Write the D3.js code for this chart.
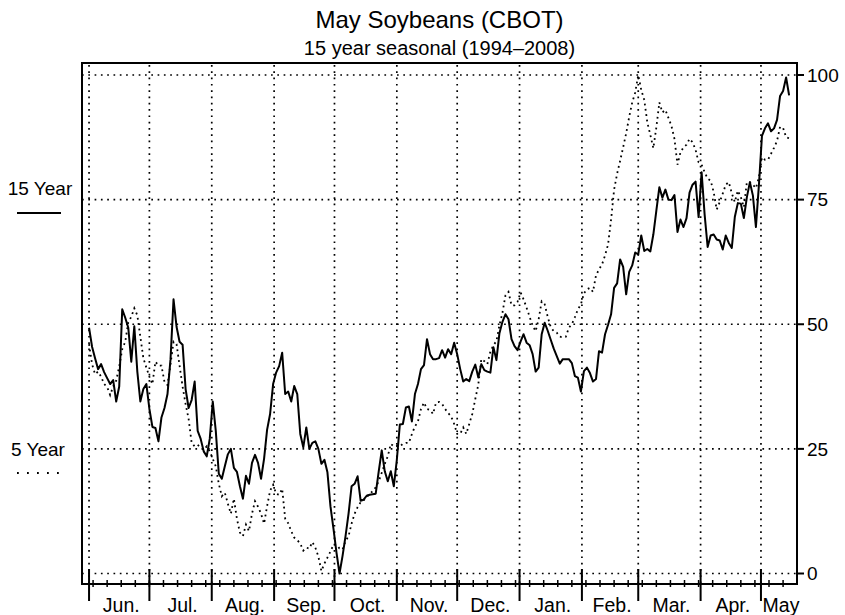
<!DOCTYPE html>
<html>
<head>
<meta charset="utf-8">
<script src="https://cdn.jsdelivr.net/npm/d3@7"></script>
<style>
  body { margin: 0; background: #fff; }
  svg { display: block; }
  text { font-family: "Liberation Sans", Arial, Helvetica, sans-serif; fill: #000; }
</style>
</head>
<body>
<svg id="chart" width="845" height="615"></svg>
<script>
// ---- data -------------------------------------------------------------
const chartTitle = "May Soybeans (CBOT)";
const chartSubtitle = "15 year seasonal (1994–2008)";
const monthLabels = ["Jun.", "Jul.", "Aug.", "Sep.", "Oct.", "Nov.", "Dec.", "Jan.", "Feb.", "Mar.", "Apr.", "May"];
const yTickValues = [0, 25, 50, 75, 100];
const seriesNames = ["15 Year", "5 Year"];

// samples every 36 hours, starting June 1
const seasonStart = Date.UTC(2001, 5, 1);
const sampleHours = 36;

const fifteenYear = [
  49.3, 45.5, 43.2, 41, 42, 40.4, 39.2, 38, 38.8, 34.5,
  37.5, 53, 51.3, 49.3, 42.5, 49.6, 40.5, 34.5, 37, 38,
  33, 29.4, 29.2, 26.5, 31.3, 33.2, 36, 43, 55, 49.5,
  46.5, 45.9, 37, 33.2, 34.8, 38.5, 28.6, 27, 24.5, 23.5,
  27, 34.5, 28.6, 20, 19, 21.5, 23.9, 25, 21.2, 20.4,
  17.5, 15, 19.6, 18, 22.2, 23.8, 22.2, 19, 23, 28.8,
  32, 38, 40.3, 41.6, 44.3, 36, 36.5, 34.5, 37.6, 36,
  28, 25.3, 29.3, 25, 26.2, 26.5, 25, 22, 22.8, 20.3,
  13.5, 9, 4.2, 0, 3.5, 7.5, 12, 17.5, 18, 19.5,
  14.6, 14.8, 15.6, 15.8, 15.9, 16, 20.5, 24.7, 20.5, 18.5,
  20.5, 17.5, 22.8, 29.9, 30, 33.3, 33.5, 30.5, 36, 38,
  41, 41.8, 47, 44, 43, 43, 43.2, 44.8, 43.3, 45,
  44, 46.3, 44, 41, 38.5, 39, 38.6, 40.5, 41.9, 39.3,
  42, 40.8, 40.5, 40.3, 45.4, 42.8, 48.2, 50.5, 52, 51,
  47, 45.6, 44.8, 46.5, 48, 46.3, 45.8, 44, 40.5, 41.3,
  48, 50.3, 48.7, 46.9, 45.1, 43.6, 42.1, 43, 43, 43,
  42.2, 39.6, 39.3, 36.5, 40.6, 41.3, 40.2, 38.5, 39, 44.6,
  44.3, 48, 49.9, 52, 57.3, 58.2, 63, 61.5, 56, 60.5,
  61.8, 64.4, 64, 67.8, 64.7, 65.1, 64.6, 68, 72.8, 77.5,
  75.4, 77, 75, 74.9, 75.9, 68.5, 71, 69.5, 71.3, 76.4,
  78, 78.6, 71.5, 80.5, 72, 65.5, 67.8, 68, 67, 66.8,
  65, 67.8, 66.3, 65.3, 71.5, 74.3, 74.2, 71.3, 75.5, 78.5,
  75.8, 69.5, 78, 87.8, 89.3, 90.3, 88.7, 89.3, 91, 95.8,
  96.8, 99.5, 95.9
];

const fiveYear = [
  46, 42, 40, 40.5, 39.5, 38, 37.4, 35.8, 37.5, 38.7,
  41.5, 45, 46.5, 50.4, 51.5, 53.2, 51.8, 47.5, 43.2, 41.3,
  39.5, 38, 42.5, 41.7, 41.7, 38.4, 37.8, 42, 46.5, 46,
  41.7, 37.5, 34, 31, 26.2, 25.5, 25.8, 25.3, 24.8, 25.5,
  24.5, 23, 21.5, 18, 15.5, 16.2, 14, 12, 15, 11,
  8.2, 7.5, 9.8, 8.5, 12, 14.5, 13.4, 12, 10, 13.5,
  16.6, 17.8, 16, 15.8, 17, 11, 10.1, 8.5, 7.2, 6.7,
  6, 4.6, 5.2, 5, 6.3, 5.2, 3.4, 0.5, 2, 3.2,
  4.4, 5.8, 5.8, 5, 4.8, 6.5, 7.5, 10, 12, 13.3,
  14.3, 14.7, 15.3, 16, 16.5, 17.3, 18.5, 20.2, 22, 23.5,
  26, 25.5, 25.6, 25.5, 26, 26.2, 26.2, 28, 29.5, 30.5,
  33, 34.3, 33, 32.8, 32, 34.3, 34.4, 34, 33, 32.2,
  31.5, 30, 28, 28, 29.3, 28, 30, 32, 35, 37.9,
  43, 42.6, 42, 44.5, 45.8, 46.6, 49.8, 52.3, 55.8, 56.5,
  53.8, 53.8, 54.5, 56.4, 55, 53.3, 51.5, 49.7, 48.6, 51,
  54.6, 54, 51.5, 49.4, 48.6, 48.3, 47.5, 47.4, 47.5, 49.3,
  50, 51.4, 53, 54, 56.2, 57, 57.3, 56.5, 59.8, 61,
  62, 63.8, 66, 71, 77, 80.2, 82.8, 85.5, 88.3, 91.6,
  94.5, 96.5, 100, 97, 95, 90.5, 88, 85.3, 89.5, 94.5,
  92.5, 93, 91.4, 89.8, 87.2, 82, 84.5, 85.5, 86, 87.2,
  86.5, 85, 82.5, 82, 80.5, 79.2, 78.8, 76.5, 73, 74.5,
  76.2, 78, 78.5, 76.3, 74.5, 76.8, 75.5, 73.5, 78.5, 78.5,
  78, 77.3, 79.5, 83.5, 83, 83, 84.2, 85.4, 86.8, 89.6,
  89.4, 87.5, 87.3
];

// ---- layout -----------------------------------------------------------
const box = { left: 82, right: 797, top: 63, bottom: 584 };
const svg = d3.select("#chart");

const x = d3.scaleUtc()
  .domain([new Date(Date.UTC(2001, 4, 28, 12)), new Date(Date.UTC(2002, 4, 18, 22))])
  .range([box.left, box.right]);
const y = d3.scaleLinear().domain([0, 100]).range([573.5, 75]);

const dateAt = i => d3.utcHour.offset(new Date(seasonStart), i * sampleHours);
const toPoints = vals => vals.map((v, i) => ({ date: dateAt(i), v }));

const monthStarts = d3.utcMonth.range(new Date(seasonStart), x.domain()[1]);
const weekTicks = d3.utcWeek.range(x.domain()[0], x.domain()[1]);

const gridDash = "1.7,4.6";

// ---- title ------------------------------------------------------------
const cx = (box.left + box.right) / 2;
svg.append("text").attr("x", cx).attr("y", 28).attr("text-anchor", "middle")
  .style("font-size", "24px").text(chartTitle);
svg.append("text").attr("x", cx).attr("y", 55).attr("text-anchor", "middle")
  .style("font-size", "20px").text(chartSubtitle);

// ---- grid -------------------------------------------------------------
const grid = svg.append("g").attr("stroke", "#000").attr("stroke-width", 1.7)
  .attr("stroke-dasharray", gridDash).attr("fill", "none");
grid.selectAll("line.h").data(yTickValues).join("line").attr("class", "h")
  .attr("x1", box.left).attr("x2", box.right)
  .attr("y1", d => y(d)).attr("y2", d => y(d));
grid.selectAll("line.v").data(monthStarts).join("line").attr("class", "v")
  .attr("x1", d => x(d)).attr("x2", d => x(d))
  .attr("y1", box.top + 2).attr("y2", box.bottom);

// ---- series -----------------------------------------------------------
const line = d3.line().x(d => x(d.date)).y(d => y(d.v));
svg.append("path").datum(toPoints(fiveYear))
  .attr("d", line).attr("fill", "none").attr("stroke", "#000")
  .attr("stroke-width", 1.8).attr("stroke-dasharray", "1.8,3.6");
svg.append("path").datum(toPoints(fifteenYear))
  .attr("d", line).attr("fill", "none").attr("stroke", "#000")
  .attr("stroke-width", 2).attr("stroke-linejoin", "round");

// ---- frame and axes ---------------------------------------------------
svg.append("rect").attr("x", box.left).attr("y", box.top)
  .attr("width", box.right - box.left).attr("height", box.bottom - box.top)
  .attr("fill", "none").attr("stroke", "#000").attr("stroke-width", 2);

// right value axis
const yAxis = svg.append("g");
yAxis.selectAll("line").data(yTickValues).join("line")
  .attr("x1", box.right).attr("x2", box.right + 7)
  .attr("y1", d => y(d)).attr("y2", d => y(d))
  .attr("stroke", "#000").attr("stroke-width", 2);
yAxis.selectAll("text").data(yTickValues).join("text")
  .attr("x", box.right + 10).attr("y", d => y(d)).attr("dy", "0.35em")
  .style("font-size", "19px").text(d => d);

// bottom time axis
const xAxis = svg.append("g");
xAxis.selectAll("line.minor").data(weekTicks).join("line").attr("class", "minor")
  .attr("x1", d => x(d)).attr("x2", d => x(d))
  .attr("y1", box.bottom - 4).attr("y2", box.bottom + 3)
  .attr("stroke", "#000").attr("stroke-width", 1.5);
xAxis.selectAll("line.major").data(monthStarts).join("line").attr("class", "major")
  .attr("x1", d => x(d)).attr("x2", d => x(d))
  .attr("y1", box.bottom - 15).attr("y2", box.bottom + 17)
  .attr("stroke", "#000").attr("stroke-width", 2);
xAxis.selectAll("text").data(monthStarts).join("text")
  .attr("x", (d, i) => {
    const next = i + 1 < monthStarts.length ? x(monthStarts[i + 1]) : box.right;
    return (x(d) + next) / 2 + 2;
  })
  .attr("y", 612).attr("text-anchor", "middle")
  .style("font-size", "19.5px").text((d, i) => monthLabels[i]);

// ---- legend -----------------------------------------------------------
const legend = svg.append("g");
legend.append("text").attr("x", 40).attr("y", 195).attr("text-anchor", "middle")
  .style("font-size", "19px").text(seriesNames[0]);
legend.append("line").attr("x1", 17).attr("x2", 61).attr("y1", 213).attr("y2", 213)
  .attr("stroke", "#000").attr("stroke-width", 2);
legend.append("text").attr("x", 38).attr("y", 456).attr("text-anchor", "middle")
  .style("font-size", "19px").text(seriesNames[1]);
legend.append("line").attr("x1", 17).attr("x2", 60).attr("y1", 473).attr("y2", 473)
  .attr("stroke", "#000").attr("stroke-width", 1.8).attr("stroke-dasharray", "1.8,8.2");
</script>
</body>
</html>
